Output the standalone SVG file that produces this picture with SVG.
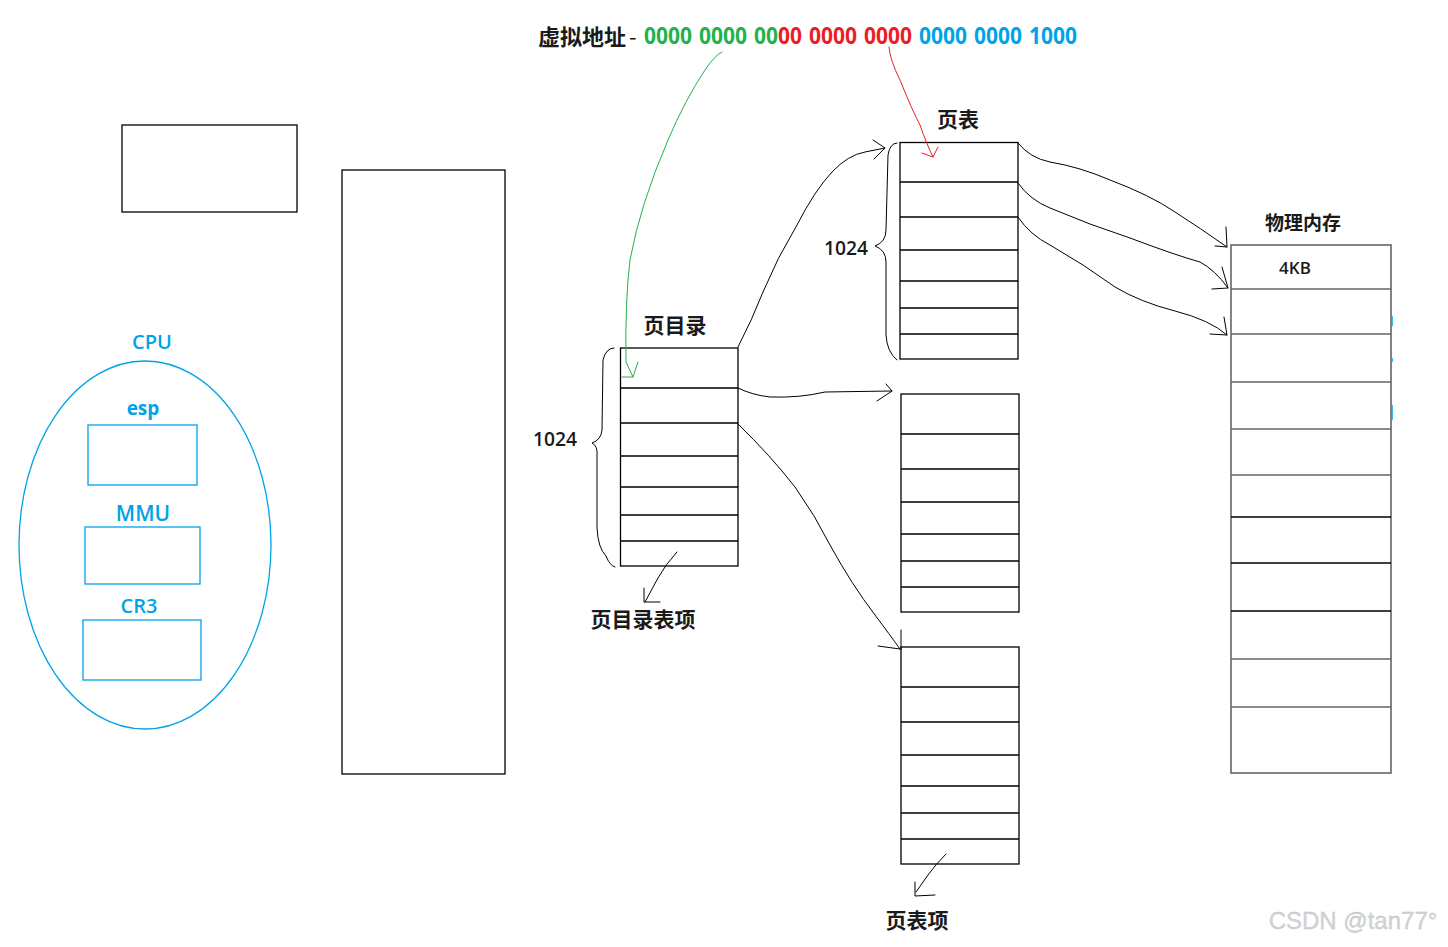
<svg xmlns="http://www.w3.org/2000/svg" width="1448" height="947" viewBox="0 0 1448 947">
<style>
.box{fill:none;stroke:#000;stroke-width:1.3}
.row{stroke:#000;stroke-width:1.3}
.pm{fill:none;stroke:#666;stroke-width:1.6}
.pmrow{stroke:#666;stroke-width:1.6}
.blue{fill:none;stroke:#00a2e8;stroke-width:1.3}
.hand{fill:none;stroke:#000;stroke-width:1;stroke-linecap:round;stroke-linejoin:round}
.green{fill:none;stroke:#22b14c;stroke-width:1;stroke-linecap:round;stroke-linejoin:round}
.red{fill:none;stroke:#ed1c24;stroke-width:1;stroke-linecap:round;stroke-linejoin:round}
.cn{font-family:"Noto Sans CJK SC","Liberation Sans",sans-serif;font-weight:bold;fill:#1a1a1a}
.num{font-family:"Open Sans","Noto Sans CJK SC",sans-serif;font-weight:600;fill:#1a1a1a}
.bl{font-family:"Open Sans","Noto Sans CJK SC",sans-serif;font-weight:600;fill:#00a2e8}
.bold{font-weight:bold}
.d{font-family:"Noto Sans","Open Sans",sans-serif;font-weight:bold;font-size:22.5px}
</style>
<rect width="1448" height="947" fill="#fff"/>

<g id="header">
<text class="cn" y="45" font-size="22"><tspan x="538">虚拟地址</tspan><tspan x="629" font-weight="normal">-</tspan></text>
<text class="d" y="44" x="644" fill="#22b14c" textLength="48" lengthAdjust="spacingAndGlyphs">0000</text>
<text class="d" y="44" x="699" fill="#22b14c" textLength="48" lengthAdjust="spacingAndGlyphs">0000</text>
<text class="d" y="44" x="754" textLength="48" lengthAdjust="spacingAndGlyphs"><tspan fill="#22b14c">00</tspan><tspan fill="#ed1c24">00</tspan></text>
<text class="d" y="44" x="809" fill="#ed1c24" textLength="48" lengthAdjust="spacingAndGlyphs">0000</text>
<text class="d" y="44" x="864" fill="#ed1c24" textLength="48" lengthAdjust="spacingAndGlyphs">0000</text>
<text class="d" y="44" x="919" fill="#00a2e8" textLength="48" lengthAdjust="spacingAndGlyphs">0000</text>
<text class="d" y="44" x="974" fill="#00a2e8" textLength="48" lengthAdjust="spacingAndGlyphs">0000</text>
<text class="d" y="44" x="1029" fill="#00a2e8" textLength="48" lengthAdjust="spacingAndGlyphs">1000</text>
</g>

<g id="small-box"><rect class="box" x="122" y="125" width="175" height="87"/></g>
<g id="memory-tall"><rect class="box" x="342" y="170" width="163" height="604"/></g>

<g id="cpu">
<text class="bl" x="152" y="349" font-size="20" text-anchor="middle">CPU</text>
<ellipse class="blue" cx="145" cy="545" rx="126" ry="184"/>
<text class="bl bold" x="143" y="415" font-size="19" text-anchor="middle">esp</text>
<rect class="blue" x="88" y="425" width="109" height="60"/>
<text class="bl" x="143" y="521" font-size="21" text-anchor="middle">MMU</text>
<rect class="blue" x="85" y="527" width="115" height="57"/>
<text class="bl" x="139" y="613" font-size="20" text-anchor="middle">CR3</text>
<rect class="blue" x="83" y="620" width="118" height="60"/>
</g>

<g id="page-directory">
<text class="cn" x="675" y="333" font-size="21" text-anchor="middle">页目录</text>
<rect class="box" x="620.5" y="348" width="117.5" height="218"/>
<path class="row" d="M620.5 388H738M620.5 423H738M620.5 456H738M620.5 487H738M620.5 515H738M620.5 541H738"/>
<path class="hand" d="M614 348 Q606 348 603 360 L602 430 Q601 440 592 443 Q598 446 597 456 L597 528 Q598 548 606 556 Q610 566 615 567"/>
<text class="num" x="555" y="446" font-size="19" text-anchor="middle" textLength="44" lengthAdjust="spacingAndGlyphs">1024</text>
<text class="cn" x="643" y="627" font-size="21" text-anchor="middle">页目录表项</text>
</g>

<g id="page-table-1">
<text class="cn" x="958" y="127" font-size="21" text-anchor="middle">页表</text>
<rect class="box" x="900" y="142.5" width="118" height="216.5"/>
<path class="row" d="M900 182H1018M900 217H1018M900 250H1018M900 281H1018M900 308H1018M900 334H1018"/>
<path class="hand" d="M897 143 Q890 143 888 155 L886 230 Q886 242 875 246 Q886 250 886 262 L886 335 Q887 352 897 360"/>
<text class="num" x="846" y="255" font-size="19" text-anchor="middle" textLength="44" lengthAdjust="spacingAndGlyphs">1024</text>
</g>

<g id="page-table-2">
<rect class="box" x="901" y="394" width="118" height="218"/>
<path class="row" d="M901 434H1019M901 469H1019M901 502H1019M901 534H1019M901 561H1019M901 587H1019"/>
</g>

<g id="page-table-3">
<rect class="box" x="901" y="647" width="118" height="217"/>
<path class="row" d="M901 687H1019M901 722H1019M901 755H1019M901 786H1019M901 813H1019M901 839H1019"/>
<text class="cn" x="917" y="928" font-size="21" text-anchor="middle">页表项</text>
</g>

<g id="physical-memory">
<text class="cn" x="1303" y="230" font-size="19" text-anchor="middle">物理内存</text>
<rect class="pm" x="1231" y="245" width="160" height="528"/>
<path class="pmrow" d="M1231 289H1391M1231 334H1391M1231 382H1391M1231 429H1391M1231 475H1391M1231 659H1391M1231 707H1391"/>
<path class="row" d="M1231 517H1391M1231 563H1391M1231 611H1391"/>
<text class="num" x="1295" y="274" font-size="17" text-anchor="middle">4KB</text>
<path d="M1392 316V326M1392 358V362M1392 405V420" stroke="#00a2e8" stroke-width="1.5"/>
</g>

<g id="connectors">
<path class="green" d="M722 52 Q715 55 705 70 Q685 100 668 140 Q640 205 630 260 Q625 300 626 362 L633 377"/>
<path class="green" d="M622 377 L633 377 L638 362"/>
<path class="red" d="M889 47 Q890 60 900 80 Q912 110 920 125 Q927 145 933 157"/>
<path class="red" d="M922 153 L933 157 L938 147"/>

<path class="hand" d="M738 347 Q752 320 763 292 Q777 258 797 225 Q815 190 832 172 Q848 155 865 152 L885 148"/>
<path class="hand" d="M873 140 L885 148 L874 159"/>

<path class="hand" d="M738 388 Q752 395 770 397 Q800 398 825 392 L892 391"/>
<path class="hand" d="M886 384 L892 391 L877 401"/>

<path class="hand" d="M738 424 Q770 455 795 487 Q815 515 830 545 Q852 585 875 615 Q890 635 900 649"/>
<path class="hand" d="M878 646 L900 649 M901 630 L901 649"/>

<path class="hand" d="M1018 143 Q1030 158 1050 162 Q1080 167 1110 180 Q1150 195 1175 212 Q1200 228 1227 247"/>
<path class="hand" d="M1226 227 L1227 247 L1215 246"/>
<path class="hand" d="M1018 183 Q1030 200 1050 208 Q1090 225 1130 238 Q1175 255 1200 262 Q1215 270 1228 288"/>
<path class="hand" d="M1222 267 L1228 288 L1212 289"/>
<path class="hand" d="M1018 217 Q1030 235 1050 245 Q1085 265 1115 287 Q1140 302 1175 311 Q1210 320 1227 335"/>
<path class="hand" d="M1224 317 L1227 335 L1210 334"/>

<path class="hand" d="M677 552 Q665 565 658 578 L645 602"/>
<path class="hand" d="M644 588 L644 602 L660 602"/>
<path class="hand" d="M946 854 Q935 865 928 875 L916 892"/>
<path class="hand" d="M915 882 L915 896 L935 895"/>
</g>

<text x="1353" y="929" font-family="Liberation Sans, Arial, sans-serif" font-size="24" fill="#d4d4d4" text-anchor="middle" stroke="#bdbdbd" stroke-width="0.3">CSDN @tan77°</text>
</svg>
